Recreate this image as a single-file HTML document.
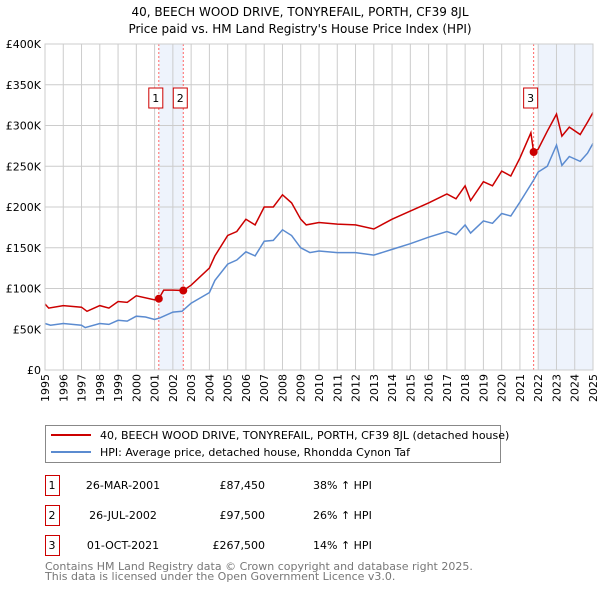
<!DOCTYPE html>
<html><head><meta charset="utf-8"><style>
body{margin:0;background:#fff}
svg{font-family:"DejaVu Sans","Liberation Sans",sans-serif}
</style></head><body>
<svg width="600" height="590" viewBox="0 0 600 590">
<text x="300" y="16" text-anchor="middle" font-size="12">40, BEECH WOOD DRIVE, TONYREFAIL, PORTH, CF39 8JL</text>
<text x="300" y="33" text-anchor="middle" font-size="12">Price paid vs. HM Land Registry's House Price Index (HPI)</text>
<g id="plot"></g>
<g>
<rect x="45.5" y="425.5" width="455" height="37" fill="#fff" stroke="#888"/>
<line x1="51" y1="435" x2="91" y2="435" stroke="#cc0000" stroke-width="2"/>
<text x="100" y="439" font-size="11">40, BEECH WOOD DRIVE, TONYREFAIL, PORTH, CF39 8JL (detached house)</text>
<line x1="51" y1="452" x2="91" y2="452" stroke="#5b8bd0" stroke-width="2"/>
<text x="100" y="456" font-size="11">HPI: Average price, detached house, Rhondda Cynon Taf</text>
</g>
<g id="table" font-size="11"></g>
<text x="45" y="570" font-size="11" fill="#777">Contains HM Land Registry data © Crown copyright and database right 2025.</text>
<text x="45" y="580" font-size="11" fill="#777">This data is licensed under the Open Government Licence v3.0.</text>
</svg>
<script>
const hpiYears=[1995,1995.3,1996,1996.5,1997,1997.2,1998,1998.5,1999,1999.5,2000,2000.5,2001,2001.3,2002,2002.5,2003,2004,2004.3,2005,2005.5,2006,2006.5,2007,2007.5,2008,2008.5,2009,2009.5,2010,2011,2012,2013,2014,2015,2016,2017,2017.5,2018,2018.3,2019,2019.5,2020,2020.5,2021,2021.75,2022,2022.5,2023,2023.3,2023.7,2024.3,2024.7,2025];
const hpiValues=[57,55,57,56,55,52,57,56,61,60,66,65,62,64,71,72,82,95,110,130,135,145,140,158,159,172,165,150,144,146,144,144,141,148,155,163,170,166,178,168,183,180,192,189,206,233,243,250,276,251,262,256,266,278];
const ppYears=[1995,1995.2,1996,1997,1997.3,1998,1998.5,1999,1999.5,2000,2001,2001.23,2001.5,2002,2002.57,2003,2004,2004.3,2005,2005.5,2006,2006.5,2007,2007.5,2008,2008.5,2009,2009.3,2010,2011,2012,2013,2014,2015,2016,2017,2017.5,2018,2018.3,2019,2019.5,2020,2020.5,2021,2021.6,2021.75,2022,2022.5,2023,2023.3,2023.7,2024.3,2024.7,2025];
const ppValues=[81,76,79,77,72,79,76,84,83,91,86,87.45,98,98,97.5,104,125,140,165,170,185,178,200,200,215,205,185,178,181,179,178,173,185,195,205,216,210,226,208,231,226,244,238,260,291,267.5,271,293,314,287,298,289,304,316];
const yTicks=[0,50,100,150,200,250,300,350,400];
const yTickLabels=["£0","£50K","£100K","£150K","£200K","£250K","£300K","£350K","£400K"];
const xTicks=[1995,1996,1997,1998,1999,2000,2001,2002,2003,2004,2005,2006,2007,2008,2009,2010,2011,2012,2013,2014,2015,2016,2017,2018,2019,2020,2021,2022,2023,2024,2025];
const saleYears=[2001.23,2002.57,2021.75];
const saleValues=[87.45,97.5,267.5];
const saleLabels=["1","2","3"];
const saleDates=["26-MAR-2001","26-JUL-2002","01-OCT-2021"];
const salePrices=["£87,450","£97,500","£267,500"];
const saleHpi=["38% ↑ HPI","26% ↑ HPI","14% ↑ HPI"];
const X0=45,X1=593,Y0=370,Y1=44,NS="http://www.w3.org/2000/svg";
const xs=v=>X0+(v-1995)/30*(X1-X0);
const ys=v=>Y0-v/400*(Y0-Y1);
const plot=document.getElementById('plot');
function mk(t,a,p){const e=document.createElementNS(NS,t);for(const k in a)e.setAttribute(k,a[k]);(p||plot).appendChild(e);return e;}
let r=mk('rect',{x:xs(saleYears[0]),y:Y1,width:xs(saleYears[1])-xs(saleYears[0]),height:Y0-Y1,fill:'#eef3fc'});


r=mk('rect',{x:xs(2021.98),y:Y1,width:X1-xs(2021.98),height:Y0-Y1,fill:'#eef3fc'});


yTicks.forEach((v,i)=>{
 let l=mk('line',{x1:X0,x2:X1,y1:ys(v),y2:ys(v),stroke:'#ccc'});
 
 
 let t=mk('text',{x:X0-4,y:ys(v)+4,'text-anchor':'end','font-size':11});
 
 
 t.textContent=yTickLabels[i];
});
xTicks.forEach(v=>{
 let l=mk('line',{x1:xs(v),x2:xs(v),y1:Y1,y2:Y0,stroke:'#ccc'});
 
 
 let t=mk('text',{transform:`translate(${xs(v)+4},${Y0+4}) rotate(-90)`,'text-anchor':'end','font-size':11});
 
 
 t.textContent=v;
});
saleYears.forEach((v,i)=>{
 let l=mk('line',{x1:xs(v),x2:xs(v),y1:Y1,y2:Y0,stroke:'#ff6666','stroke-dasharray':'2,2'});
 
 
});
function path(xv,yv,col,name){
 let d=xv.map((x,i)=>(i?'L':'M')+xs(x).toFixed(1)+','+ys(yv[i]).toFixed(1)).join('');
 let p=mk('path',{d:d,fill:'none',stroke:col,'stroke-width':1.5});
 
 
}
path(hpiYears,hpiValues,'#5b8bd0','hpi-line');
path(ppYears,ppValues,'#cc0000','price-paid-line');
saleYears.forEach((v,i)=>{
 let c=mk('circle',{cx:xs(v),cy:ys(saleValues[i]),r:4,fill:'#cc0000'});
 
 
 let bx=xs(v)-3;
 let b=mk('rect',{x:bx-7,y:88,width:14,height:20,fill:'#fff',stroke:'#cc0000'});
 
 
 let t=mk('text',{x:bx,y:102,'text-anchor':'middle','font-size':11});
 
 
 t.textContent=saleLabels[i];
});
let ax=mk('rect',{x:X0,y:Y1,width:X1-X0,height:Y0-Y1,fill:'none',stroke:'#ccc'});


const tb=document.getElementById('table');
saleLabels.forEach((s,i)=>{
 const y=475+i*30;
 let b=mk('rect',{x:45.5,y:y+0.5,width:14,height:20,fill:'#fff',stroke:'#cc0000'},tb);
 
 
 const cells=[[52,s,'middle'],[123,saleDates[i],'middle'],[265,salePrices[i],'end'],[313,saleHpi[i],'start']];
 cells.forEach(c=>{
  let t=mk('text',{x:c[0],y:y+14,'text-anchor':c[2]},tb);
  
  
  t.textContent=c[1];
 });
});
</script>
</body></html>
